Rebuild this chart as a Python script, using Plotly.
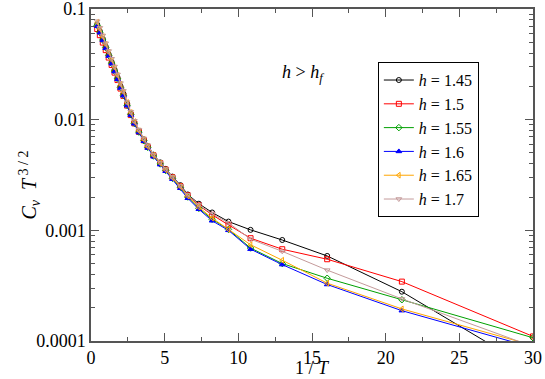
import plotly.graph_objects as go

# 1/T values shared by all series
inv_t = [0.42, 0.6, 0.8, 1.0, 1.2, 1.4, 1.6, 1.8, 2.0, 2.2, 2.45, 2.7, 2.94, 3.25, 3.59,
         3.85, 4.24, 4.7, 5.07, 5.53, 6.07, 6.57, 7.32, 8.22, 9.33, 10.83, 12.98, 16.03,
         21.1, 30.0]

cv_h145 = [0.0724, 0.0631, 0.0538, 0.0458, 0.0390, 0.0332, 0.0283, 0.0241, 0.0201, 0.0172,
           0.0140, 0.0114, 0.00950, 0.00794, 0.00663, 0.00578, 0.00483, 0.00411, 0.00359,
           0.00306, 0.00256, 0.00211, 0.00174, 0.00145, 0.00120, 0.00101, 0.000818,
           0.000587, 0.000279, 0.0000550]
cv_h150 = [0.0660, 0.0580, 0.0497, 0.0425, 0.0364, 0.0312, 0.0266, 0.0228, 0.0191, 0.0164,
           0.0134, 0.0110, 0.00925, 0.00776, 0.00650, 0.00568, 0.00476, 0.00405, 0.00354,
           0.00301, 0.00250, 0.00207, 0.00168, 0.00138, 0.00112, 0.000849, 0.000675,
           0.000548, 0.000344, 0.000110]
cv_h155 = [0.0708, 0.0617, 0.0525, 0.0447, 0.0380, 0.0324, 0.0275, 0.0234, 0.0195, 0.0166,
           0.0135, 0.0111, 0.00925, 0.00772, 0.00645, 0.00562, 0.00469, 0.00398, 0.00347,
           0.00295, 0.00245, 0.00200, 0.00158, 0.00126, 0.00102, 0.000692, 0.000501,
           0.000369, 0.000236, 0.000107]
cv_h160 = [0.0700, 0.0610, 0.0520, 0.0442, 0.0376, 0.0320, 0.0272, 0.0232, 0.0193, 0.0165,
           0.0134, 0.0110, 0.00918, 0.00765, 0.00638, 0.00555, 0.00462, 0.00392, 0.00342,
           0.00290, 0.00240, 0.00195, 0.00155, 0.00122, 0.00100, 0.000676, 0.000490,
           0.000324, 0.000188, 0.0000871]
cv_h165 = [0.0758, 0.0661, 0.0563, 0.0479, 0.0407, 0.0347, 0.0295, 0.0251, 0.0209, 0.0178,
           0.0143, 0.0116, 0.00960, 0.00794, 0.00661, 0.00572, 0.00476, 0.00404, 0.00352,
           0.00299, 0.00248, 0.00204, 0.00162, 0.00129, 0.00102, 0.000741, 0.000537,
           0.000333, 0.000195, 0.0000912]
cv_h170 = [0.0776, 0.0676, 0.0576, 0.0490, 0.0417, 0.0355, 0.0302, 0.0256, 0.0214, 0.0182,
           0.0144, 0.0118, 0.00977, 0.00812, 0.00676, 0.00588, 0.00484, 0.00411, 0.00358,
           0.00304, 0.00252, 0.00209, 0.00170, 0.00141, 0.00117, 0.000832, 0.000646,
           0.000437, 0.000240, 0.0000891]

series = [
    ("1.45", cv_h145, "black", "circle-open"),
    ("1.5", cv_h150, "#ff0000", "square-open"),
    ("1.55", cv_h155, "#00a000", "diamond-open"),
    ("1.6", cv_h160, "#0000ff", "triangle-up"),
    ("1.65", cv_h165, "#ffa500", "triangle-left-open"),
    ("1.7", cv_h170, "#c49a9a", "triangle-down-open"),
]

y_major = [0.0001, 0.001, 0.01, 0.1]
y_labels = ["0.0001", "0.001", "0.01", "0.1"]
y_minor = [m * d for d in y_major[:-1] for m in range(2, 10)]

FONT = "Liberation Serif, Times New Roman, DejaVu Serif, serif"
TXT = dict(family=FONT, size=18, color="black")
fig = go.Figure()
for h, vals, color, sym in series:
    fig.add_trace(go.Scatter(
        x=inv_t, y=vals, mode="lines+markers",
        name=f"<i>h</i> = {h}",
        line=dict(color=color, width=1),
        marker=dict(symbol=sym, size=5, color=color, line=dict(color=color, width=1)),
    ))

axis_common = dict(
    showline=True, linecolor="#555", linewidth=1.5, mirror="allticks",
    ticks="inside", ticklen=8, tickcolor="#555", showgrid=False, zeroline=False,
    tickfont=TXT, automargin=False, ticklabeloverflow="allow",
)
fig.update_xaxes(
    range=[0, 30], dtick=5, tick0=0,
    minor=dict(ticks="inside", ticklen=4, dtick=2.5, tickcolor="#555"),
    **axis_common,
)
fig.update_yaxes(
    type="log", range=[-4, -1],
    tickvals=y_major, ticktext=y_labels,
    minor=dict(ticks="inside", ticklen=4, tickcolor="#555", tickvals=y_minor),
    **axis_common,
)
# axis titles as annotations to keep them inside the small canvas
fig.add_annotation(
    x=0.5, y=-0.08, xref="paper", yref="paper", showarrow=False,
    yanchor="middle", text="1 / <i>T</i>", font=TXT,
)
fig.add_annotation(
    x=-0.175, y=0.47, xref="paper", yref="paper", showarrow=False, textangle=-90,
    text="<i>C</i><sub><i>v</i></sub>  <i>T</i><sup> 3 / 2</sup>",
    font=dict(family=FONT, size=20, color="black"),
)
fig.add_annotation(
    x=0.48, y=0.845, xref="paper", yref="paper", showarrow=False,
    text="<i>h</i> > <i>h</i><sub><i>f</i></sub>", font=TXT,
)
fig.update_layout(
    width=545, height=379,
    margin=dict(l=91, r=12, t=9, b=38, autoexpand=False),
    plot_bgcolor="white", paper_bgcolor="white",
    font=TXT,
    legend=dict(
        x=0.649, y=0.84, xanchor="left", yanchor="top",
        bordercolor="black", borderwidth=1, bgcolor="white",
        font=dict(family=FONT, size=16, color="black"), tracegroupgap=0, itemwidth=30,
    ),
)
fig.write_html("out.html", config={"displayModeBar": False},
               post_script="document.body.style.margin='0';")
